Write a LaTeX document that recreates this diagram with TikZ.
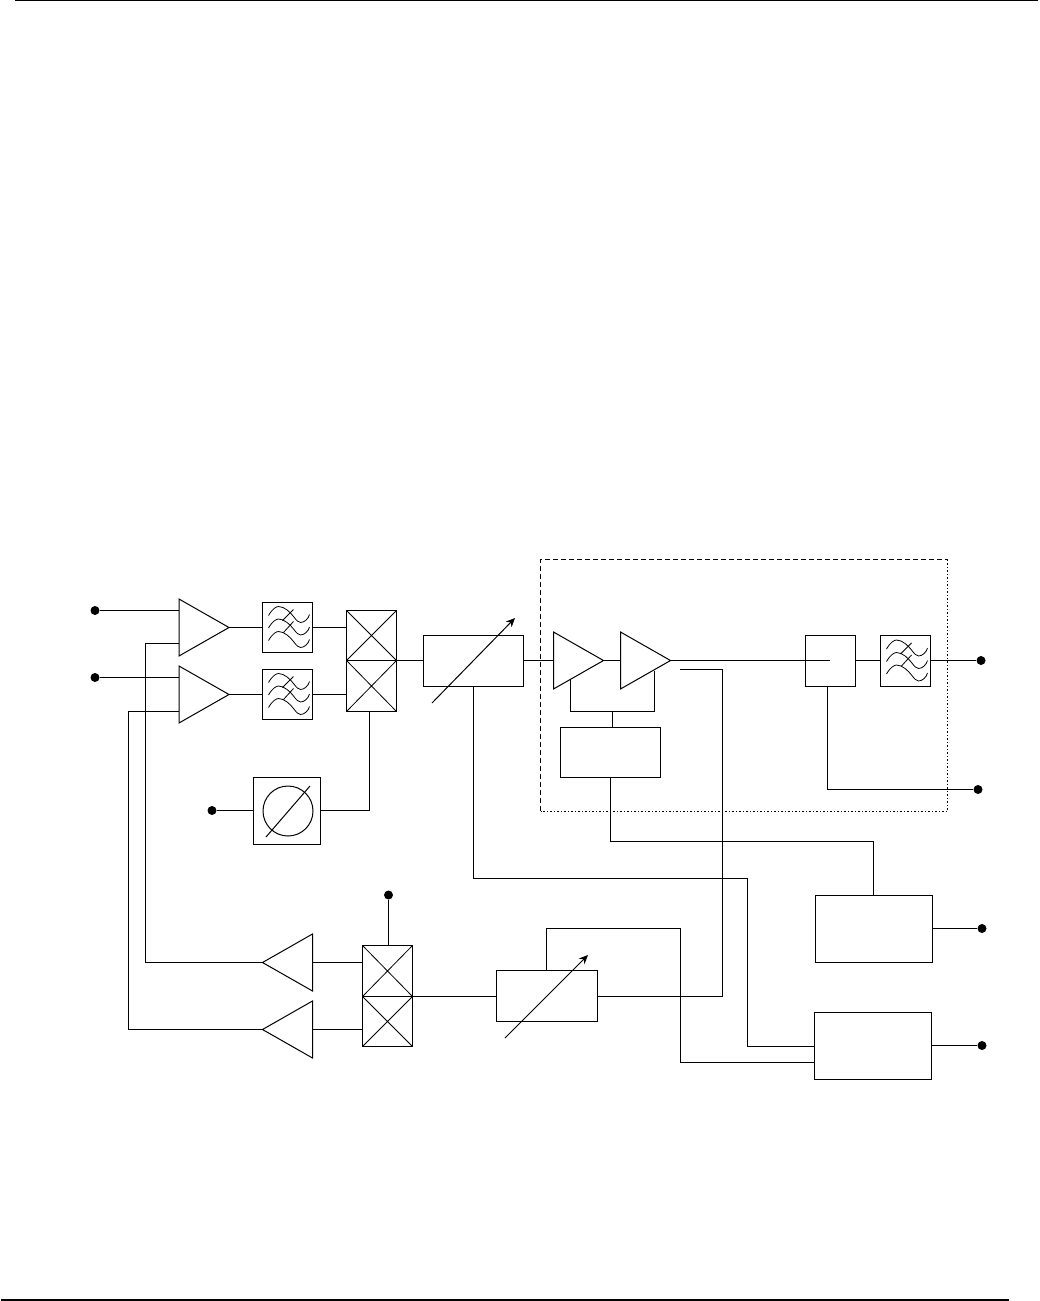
\documentclass[tikz,border=0pt]{standalone}
\usetikzlibrary{shapes.geometric, arrows.meta}
\tikzset{
	wire/.style={line width=1pt},
	blockbox/.style={draw, wire, rectangle, inner sep=0pt, outer sep=0pt, minimum width=#1},
	mixbox/.style={blockbox=50pt, minimum height=#1,
		path picture={\draw[line width=0.8pt] (path picture bounding box.south west) -- (path picture bounding box.north east)
			(path picture bounding box.north west) -- (path picture bounding box.south east);}},
	ampright/.style={draw, wire, isosceles triangle, isosceles triangle stretches, inner sep=0pt, outer sep=0pt,
		minimum width=57pt, minimum height=50pt, anchor=apex},
	ampleft/.style={ampright, shape border rotate=180},
	pindot/.style={circle, fill=black, inner sep=0pt, minimum size=9pt},
	filtersym/.pic={
		\foreach \dy in {0,12.5,25}
			\draw[line width=0.8pt] (-19,-12+\dy) .. controls (-15,-19+\dy) and (-11,-21+\dy) .. (-9,-21+\dy)
				.. controls (-3,-21+\dy) and (3,-15+\dy) .. (6,-11+\dy)
				.. controls (9,-7+\dy) and (11,-5+\dy) .. (13,-5+\dy)
				.. controls (17,-5+\dy) and (21,-9+\dy) .. (22,-13+\dy);
		\draw[line width=0.8pt] (6,-18) -- (-5,-7) (6,-6) -- (-4,5);
	}
}
\begin{document}
\begin{tikzpicture}[x=1pt, y=-1pt]
	\useasboundingbox (0,0) rectangle (1039,1301);
	\draw[line width=1.2pt] (15,0.6) -- (1038,0.6);
	\draw[line width=1.6pt] (1,1300.2) -- (1009,1300.2);

	% input side
	\node[pindot] (inA) at (95,610.5) {};
	\node[pindot] (inB) at (95,677.5) {};
	\node[ampright] (ampA) at (229,627.5) {};
	\node[ampright] (ampB) at (229,694.5) {};
	\node[blockbox=50pt, minimum height=50pt] (filtA) at (287.5,627.5) {};
	\node[blockbox=50pt, minimum height=50pt] (filtB) at (287.5,694.5) {};
	\draw (filtA.center) pic {filtersym};
	\draw (filtB.center) pic {filtersym};
	\node[mixbox=50pt] (mixA) at (371.5,635.5) {};
	\node[mixbox=51pt] (mixB) at (371.5,686) {};
	\node[blockbox=67pt, minimum height=67pt] (phase) at (287,811) {};
	\node[circle, draw, wire, inner sep=0pt, minimum size=50pt] (phasering) at (288,811) {};
	\draw[wire] (266,837) -- (310,786);
	\node[pindot] (inC) at (212,810.5) {};
	\draw[wire] (inA) -- (inA -| ampA.lower side);
	\draw[wire] (inB) -- (inB -| ampB.lower side);
	\draw[wire] (ampA.apex) -- (filtA.west);
	\draw[wire] (ampB.apex) -- (filtB.west);
	\draw[wire] (filtA.east) -- (filtA.east -| mixA.west);
	\draw[wire] (filtB.east) -- (filtB.east -| mixB.west);
	\draw[wire] (inC) -- (inC -| phase.west);
	\draw[wire] (inC -| phase.east) -- (369.5,810.5) -- (369.5,711.5);

	% attenuator and dashed module
	\node[blockbox=100pt, minimum height=51pt] (attA) at (473.5,661) {};
	\draw[wire, -{Stealth[length=9pt,width=8pt]}] (432,703) -- (515,618);
	\draw[wire] (mixA.south east) -- (mixA.south east -| attA.west);
	\coordinate (modNW) at (540.5,559.5);
	\coordinate (modNE) at (947.5,559.5);
	\coordinate (modSE) at (947.5,811);
	\coordinate (modSW) at (540.5,811);
	\draw[wire, dash pattern=on 5pt off 3pt] (modSW) -- (modNW) -- (modNE);
	\draw[wire, dash pattern=on 1.5pt off 2pt] (modNE) -- (modSE) -- (modSW);
	\node[ampright] (ampC) at (603.5,660.5) {};
	\node[ampright] (ampD) at (670.5,660.5) {};
	\node[blockbox=100pt, minimum height=50pt] (bias) at (610.5,752.5) {};
	\node[blockbox=50pt, minimum height=51pt] (tap) at (830.5,661) {};
	\node[blockbox=50pt, minimum height=51pt] (filtC) at (905.5,661) {};
	\draw (filtC.center) pic {filtersym};
	\node[pindot] (outA) at (981,660.5) {};
	\node[pindot] (outB) at (978,789.5) {};
	\coordinate (tapin) at (830,660.5);
	\draw[wire] (ampC.lower side -| attA.east) -- (ampC.lower side);
	\draw[wire] (ampC.apex) -- (ampD.lower side);
	\draw[wire] (ampD.apex) -- (tapin);
	\draw[wire] (tapin -| tap.east) -- (tapin -| filtC.west);
	\draw[wire] (tapin -| filtC.east) -- (outA);
	\draw[wire] (827.5,685.5) -- (827.5,789.5) -- (outB);
	\draw[wire] (570.5,680) -- (570.5,711.5) -- (654.5,711.5) -- (654.5,670.5);
	\draw[wire] (612.5,711.5) -- (612.5,727.5);

	% return path
	\node[ampleft] (ampE) at (262.5,962.5) {};
	\node[ampleft] (ampF) at (262.5,1029.5) {};
	\node[mixbox=51pt] (mixC) at (387.5,971) {};
	\node[mixbox=50pt] (mixD) at (387.5,1021.5) {};
	\node[pindot] (inD) at (388.5,895) {};
	\node[blockbox=101pt, minimum height=51pt] (attB) at (547,996) {};
	\draw[wire, -{Stealth[length=9pt,width=8pt]}] (505,1038) -- (588,955);
	\draw[wire] (inD) -- (inD |- mixC.north);
	\draw[wire] (ampE.lower side) -- (ampE.lower side -| mixC.west);
	\draw[wire] (ampF.lower side) -- (ampF.lower side -| mixD.west);
	\draw[wire] (mixC.south east) -- (mixC.south east -| attB.west);
	\draw[wire] (ampE.apex) -- (145.5,962.5) -- (145.5,643.5) -- (179,643.5);
	\draw[wire] (ampF.apex) -- (128.5,1029.5) -- (128.5,711.5) -- (179,711.5);
	\draw[wire] (680,669.5) -- (722.5,669.5) -- (722.5,996.5) -- (597.5,996.5);

	% lower right blocks
	\node[blockbox=117pt, minimum height=67pt] (ctrlA) at (874,929) {};
	\node[blockbox=117pt, minimum height=67pt] (ctrlB) at (873,1046) {};
	\node[pindot] (outC) at (982,928.5) {};
	\node[pindot] (outD) at (982,1045.5) {};
	\coordinate (busC) at (873.5,841.5);
	\draw[wire] (outC -| ctrlA.east) -- (outC);
	\draw[wire] (outD -| ctrlB.east) -- (outD);
	\draw[wire] (bias.south) -- (610.5,841.5) -- (busC) -- (busC |- ctrlA.north);
	\draw[wire] (attA.south) -- (473.5,878.5) -- (747.5,878.5) -- (747.5,1046.5) -- (814.5,1046.5);
	\draw[wire] (546.5,970.5) -- (546.5,928.5) -- (680.5,928.5) -- (680.5,1062.5) -- (814.5,1062.5);
\end{tikzpicture}
\end{document}
